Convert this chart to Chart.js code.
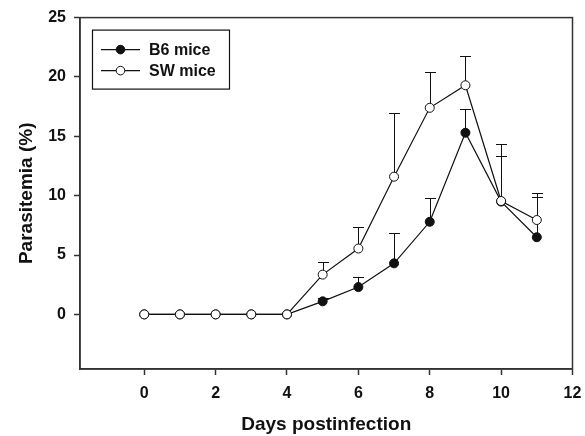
<!DOCTYPE html>
<html>
<head>
<meta charset="utf-8">
<script src="https://cdn.jsdelivr.net/npm/chart.js@4"></script>
<style>
  html, body { margin: 0; padding: 0; background: #fff; }
  #wrap { width: 585px; height: 436px; }
</style>
</head>
<body>
<div id="wrap"><canvas id="parasiteChart" width="585" height="436"></canvas></div>
<script>
const days = [0, 1, 2, 3, 4, 5, 6, 7, 8, 9, 10, 11];
const b6Values = [0, 0, 0, 0, 0, 1.1, 2.3, 4.3, 7.8, 15.3, 9.5, 6.5];
const b6Errors = [0, 0, 0, 0, 0, 0.3, 0.85, 2.55, 2.0, 2.0, 3.85, 3.4];
const swValues = [0, 0, 0, 0, 0, 3.35, 5.55, 11.6, 17.4, 19.3, 9.55, 7.95];
const swErrors = [0, 0, 0, 0, 0, 1.1, 1.85, 5.4, 3.0, 2.45, 4.8, 2.3];
const xTicks = [0, 2, 4, 6, 8, 10, 12];
const yTicks = [0, 5, 10, 15, 20, 25];
const seriesNames = ['B6 mice', 'SW mice'];

const ink = '#111';
const axisFont = { family: 'Liberation Sans, Arial, sans-serif', weight: 'bold', size: 16 };
const titleFont = { family: 'Liberation Sans, Arial, sans-serif', weight: 'bold', size: 19, lineHeight: 1.2 };

function toPoints(vals) {
    return days.map((d, i) => ({ x: d, y: vals[i] }));
}

// error bars (upper only) + frame + legend
const extras = {
    id: 'extras',
    beforeDatasetsDraw(chart) {
        const c = chart.ctx;
        const xs = chart.scales.x, ys = chart.scales.y;
        c.save();
        c.strokeStyle = ink;
        c.lineWidth = 1;
        [[b6Values, b6Errors], [swValues, swErrors]].forEach(([vals, errs]) => {
            days.forEach((d, i) => {
                if (!errs[i]) return;
                const px = Math.round(xs.getPixelForValue(d)) + 0.5;
                const y0 = ys.getPixelForValue(vals[i]);
                const y1 = Math.round(ys.getPixelForValue(vals[i] + errs[i])) + 0.5;
                c.beginPath();
                c.moveTo(px, y0);
                c.lineTo(px, y1);
                c.moveTo(px - 5.5, y1);
                c.lineTo(px + 5.5, y1);
                c.stroke();
            });
        });
        c.restore();
    },
    afterDraw(chart) {
        const c = chart.ctx;
        const a = chart.chartArea;
        c.save();
        // frame
        c.strokeStyle = '#333';
        c.lineWidth = 1.5;
        c.strokeRect(a.left, a.top, a.right - a.left, a.bottom - a.top);

        // legend
        const lx = a.left + 12, ly = a.top + 12, lw = 137, lh = 59;
        c.fillStyle = '#fff';
        c.fillRect(lx, ly, lw, lh);
        c.strokeStyle = ink;
        c.lineWidth = 1.2;
        c.strokeRect(lx + 0.5, ly + 0.5, lw, lh);
        c.font = 'bold 16px Liberation Sans, Arial, sans-serif';
        c.textBaseline = 'middle';
        seriesNames.forEach((name, i) => {
            const ry = ly + 20 + i * 21;
            c.strokeStyle = ink;
            c.lineWidth = 1.2;
            c.beginPath();
            c.moveTo(lx + 9, ry);
            c.lineTo(lx + 48, ry);
            c.stroke();
            c.beginPath();
            c.arc(lx + 28.5, ry, 4.3, 0, Math.PI * 2);
            c.fillStyle = i === 0 ? ink : '#fff';
            c.fill();
            c.lineWidth = 1;
            c.stroke();
            c.fillStyle = ink;
            c.fillText(name, lx + 57, ry + 1);
        });
        c.restore();
    }
};

const ctx = document.getElementById('parasiteChart').getContext('2d');

const parasiteChart = new Chart(ctx, {
    type: 'scatter',
    data: {
        datasets: [
            {
                label: seriesNames[0],
                data: toPoints(b6Values),
                showLine: true,
                borderColor: ink,
                borderWidth: 1.2,
                pointRadius: 4.5,
                pointBackgroundColor: ink,
                pointBorderColor: ink,
                pointBorderWidth: 1,
                order: 1
            },
            {
                label: seriesNames[1],
                data: toPoints(swValues),
                showLine: true,
                borderColor: ink,
                borderWidth: 1.2,
                pointRadius: 4.5,
                pointBackgroundColor: '#fff',
                pointBorderColor: ink,
                pointBorderWidth: 1,
                order: 0
            }
        ]
    },
    options: {
        responsive: false,
        animation: false,
        events: [],
        layout: { padding: { top: 16, right: 12.5, left: 0, bottom: 0 } },
        plugins: {
            legend: { display: false },
            tooltip: { enabled: false }
        },
        scales: {
            x: {
                type: 'linear',
                min: -1.8,
                max: 12,
                afterBuildTicks: s => { s.ticks = xTicks.map(v => ({ value: v })); },
                afterFit: s => { s.height = 67; s.paddingRight = 0; s.paddingLeft = 0; },
                grid: { drawOnChartArea: false, drawTicks: true, tickLength: 6, tickColor: '#333', tickWidth: 1.5 },
                border: { display: true, color: '#333', width: 1.5 },
                ticks: { color: ink, font: axisFont, padding: 9, maxRotation: 0 },
                title: { display: true, text: 'Days postinfection', color: ink, font: titleFont, padding: { top: 0, bottom: 0 } }
            },
            y: {
                min: -4.6,
                max: 25,
                afterBuildTicks: s => { s.ticks = yTicks.map(v => ({ value: v })); },
                afterFit: s => { s.width = 80; },
                grid: { drawOnChartArea: false, drawTicks: true, tickLength: 6, tickColor: '#333', tickWidth: 1.5 },
                border: { display: true, color: '#333', width: 1.5 },
                ticks: { color: ink, font: axisFont, padding: 8 },
                title: { display: true, text: 'Parasitemia (%)', color: ink, font: titleFont, padding: { top: 15, bottom: 0 } }
            }
        }
    },
    plugins: [extras]
});
</script>
</body>
</html>
